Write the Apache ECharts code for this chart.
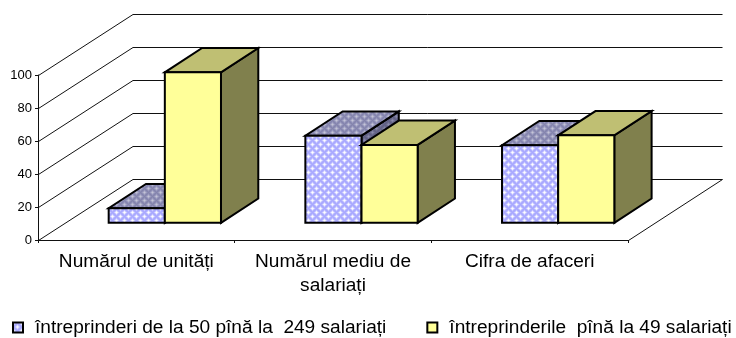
<!DOCTYPE html>
<html><head><meta charset="utf-8">
<style>html,body{margin:0;padding:0;background:#fff}#c{width:736px;height:338px}</style>
<script src="https://cdn.jsdelivr.net/npm/echarts@6/dist/echarts.min.js"></script>
</head><body><div id="c"></div>
<script>
const categories = ['Numărul de unități', 'Numărul mediu de\nsalariați', 'Cifra de afaceri'];
const seriesNames = ['întreprinderi de la 50 pînă la  249 salariați', 'întreprinderile  pînă la 49 salariați'];
const mediumFirms = [8.8, 52.8, 47];
const smallFirms = [91.2, 47.2, 53];
const yTicks = [0, 20, 40, 60, 80, 100];

function lattice(shades) {
  const n = 8, c = document.createElement('canvas');
  c.width = c.height = n;
  const g = c.getContext('2d');
  for (let y = 0; y < n; y++) for (let x = 0; x < n; x++) {
    const ax = Math.min(x, n - x), ay = Math.min(y, n - y);
    const d = Math.min(ax + ay, Math.abs(x - 4) + Math.abs(y - 4));
    g.fillStyle = shades[d];
    g.fillRect(x, y, 1, 1);
  }
  return { image: c, repeat: 'repeat' };
}
const DEPTH_X = 94.5, DEPTH_Y = -61;
const OFF_X = 28.5, OFF_Y = -17.2, BAR_DX = 37.3, BAR_DY = -24.3, BAR_FRAC = 0.2855;
const faces = [
  { front: lattice(['#ffffff', '#f0f0ff', '#ccccff', '#b0b0ff', '#a8a8ff']),
    top: lattice(['#c4c4d8', '#b4b4cc', '#9c9cc0', '#8c8cb4', '#8484ac']),
    side: lattice(['#8c8cac', '#8080a4', '#70708f', '#66668a', '#606084']) },
  { front: '#ffff99', top: '#bfbf73', side: '#80804d' }
];
const edge = { stroke: '#000', lineWidth: 2, lineJoin: 'miter' };

function barRenderer(idx) {
  return function (params, api) {
    const top = api.coord([api.value(0), api.value(1)]);
    const base = api.coord([api.value(0), 0]);
    const w = api.size([1, 0])[0] * BAR_FRAC;
    const x0 = base[0] + OFF_X - w + idx * w, x1 = x0 + w;
    const y0 = base[1] + OFF_Y, y1 = top[1] + OFF_Y;
    const f = faces[idx];
    const poly = (pts, fill) => ({ type: 'polygon', shape: { points: pts }, style: Object.assign({ fill }, edge) });
    return { type: 'group', children: [
      poly([[x1,y0],[x1+BAR_DX,y0+BAR_DY],[x1+BAR_DX,y1+BAR_DY],[x1,y1]], f.side),
      poly([[x0,y1],[x1,y1],[x1+BAR_DX,y1+BAR_DY],[x0+BAR_DX,y1+BAR_DY]], f.top),
      poly([[x0,y0],[x1,y0],[x1,y1],[x0,y1]], f.front)
    ]};
  };
}
function wallRenderer(params, api) {
  const v = api.value(0);
  const a = api.coord([0, v]);
  const left = a[0] - api.size([1, 0])[0] / 2;
  const right = left + api.size([1, 0])[0] * categories.length;
  const y = a[1] + 0.5;
  const kids = [{ type: 'polyline', shape: { points: [[left + 0.5, y], [left + 0.5 + DEPTH_X, y + DEPTH_Y], [right + DEPTH_X, y + DEPTH_Y]] },
    style: { fill: 'none', stroke: '#111', lineWidth: 1 } }];
  if (v === 0) kids.push({ type: 'line', shape: { x1: right + 0.5, y1: y, x2: right + DEPTH_X, y2: y + DEPTH_Y },
    style: { stroke: '#111', lineWidth: 1 } });
  return { type: 'group', children: kids };
}

const chart = echarts.init(document.getElementById('c'), null, { renderer: 'canvas' });
chart.setOption({
  animation: false,
  textStyle: { fontFamily: '"Liberation Sans", Arial, sans-serif' },
  grid: { left: 38, top: 75, width: 590, height: 165, containLabel: false },
  xAxis: { type: 'category', data: categories, boundaryGap: true,
    axisLine: { lineStyle: { color: '#111', width: 1 } },
    axisTick: { show: true, length: 3, lineStyle: { color: '#111' } },
    axisLabel: { color: '#000', fontSize: 19.1, lineHeight: 24, margin: 10, interval: 0, hideOverlap: false },
    splitLine: { show: false } },
  yAxis: { type: 'value', min: 0, max: 100, interval: 20,
    axisLine: { show: true, lineStyle: { color: '#111', width: 1 } },
    axisTick: { show: true, length: 3, lineStyle: { color: '#111' } },
    axisLabel: { color: '#000', fontSize: 13, margin: 6 },
    splitLine: { show: false } },
  legend: { left: 12, top: 318, padding: 0, icon: 'rect', itemWidth: 10, itemHeight: 10, itemGap: 40,
    textStyle: { color: '#000', fontSize: 19.1, padding: [2, 0, 0, 7] },
    data: seriesNames, selectedMode: false },
  series: [
    { type: 'custom', name: 'walls', coordinateSystem: 'cartesian2d', silent: true, z: 1, renderItem: wallRenderer,
      encode: { y: 0 }, data: yTicks.map(v => [v]) },
    { type: 'custom', name: seriesNames[0], z: 2, renderItem: barRenderer(0), silent: true,
      itemStyle: { color: faces[0].front, borderColor: '#000', borderWidth: 2 },
      encode: { x: 0, y: 1 }, data: mediumFirms.map((v, i) => [i, v]) },
    { type: 'custom', name: seriesNames[1], z: 3, renderItem: barRenderer(1), silent: true,
      itemStyle: { color: faces[1].front, borderColor: '#000', borderWidth: 2 },
      encode: { x: 0, y: 1 }, data: smallFirms.map((v, i) => [i, v]) }
  ]
});
</script></body></html>
